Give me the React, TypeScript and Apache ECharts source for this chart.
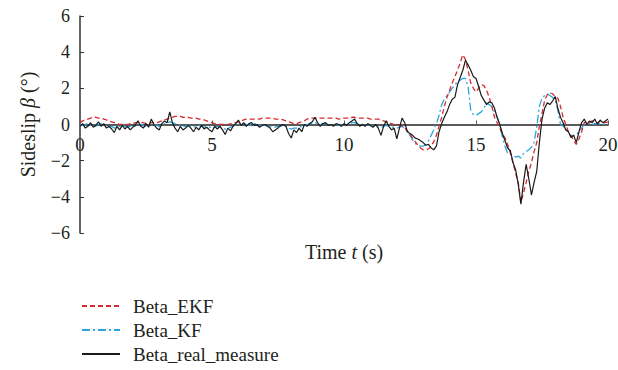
import React, { useEffect, useRef } from "react";
import * as echarts from "echarts";

// time stamps (s), 0.1 s step from 0 to 20
const timeSteps: number[] = Array.from({ length: 201 }, (_, i) => Math.round(i) / 10);

const betaEKF: number[] = [
  0.1, 0.2, 0.25, 0.3, 0.35, 0.4, 0.4, 0.35, 0.35, 0.3,
  0.25, 0.2, 0.15, 0.1, 0.05, 0.0, 0.0, 0.0, 0.0, 0.05,
  0.05, 0.1, 0.1, 0.1, 0.1, 0.05, 0.05, 0.1, 0.1, 0.1,
  0.15, 0.2, 0.25, 0.3, 0.35, 0.4, 0.45, 0.45, 0.45, 0.4,
  0.4, 0.4, 0.35, 0.35, 0.35, 0.3, 0.3, 0.25, 0.2, 0.15,
  0.1, 0.05, 0.0, 0.0, 0.0, 0.0, 0.0, 0.05, 0.05, 0.1,
  0.15, 0.2, 0.25, 0.3, 0.3, 0.3, 0.3, 0.3, 0.3, 0.35,
  0.35, 0.35, 0.35, 0.35, 0.3, 0.3, 0.3, 0.25, 0.2, 0.15,
  0.1, 0.05, 0.05, 0.1, 0.15, 0.2, 0.3, 0.35, 0.35, 0.35,
  0.35, 0.35, 0.35, 0.35, 0.35, 0.35, 0.35, 0.35, 0.3, 0.3,
  0.35, 0.35, 0.35, 0.4, 0.4, 0.35, 0.35, 0.35, 0.35, 0.35,
  0.3, 0.3, 0.3, 0.3, 0.25, 0.2, 0.15, 0.1, 0.05, 0.0,
  0.0, -0.05, -0.1, -0.2, -0.35, -0.55, -0.75, -0.95, -1.15, -1.3,
  -1.4, -1.4, -1.35, -1.2, -0.95, -0.6, -0.1, 0.4, 1.0, 1.5,
  1.9, 2.3, 2.65, 3.0, 3.4, 3.85, 3.6, 3.0, 2.3, 2.0,
  1.8, 2.0, 2.2, 2.15, 1.9, 1.5, 1.0, 0.4, 0.1, -0.2,
  -0.5, -0.75, -1.1, -1.6, -2.1, -2.7, -3.2, -4.3, -3.8, -3.2,
  -2.6, -2.1, -1.5, -1.0, -0.1, 0.6, 1.35, 1.65, 1.75, 1.7,
  1.55, 1.45, 1.0, 0.4, 0.0, -0.4, -0.6, -0.9, -1.1, -0.8,
  -0.4, 0.1, 0.15, 0.1, 0.2, 0.15, 0.1, 0.2, 0.15, 0.1,
  0.15,
];

const betaKF: number[] = [
  0.0, -0.05, 0.0, 0.05, -0.05, 0.0, -0.1, 0.0, 0.05, -0.05,
  -0.1, -0.15, -0.1, -0.2, -0.15, -0.1, -0.05, -0.1, -0.15, -0.1,
  -0.05, -0.1, -0.05, 0.0, -0.05, -0.1, 0.0, 0.05, 0.0, -0.05,
  -0.1, -0.05, 0.05, 0.1, 0.15, 0.1, 0.05, 0.0, -0.05, -0.1,
  -0.1, -0.05, -0.1, -0.15, -0.1, -0.05, -0.1, -0.15, -0.1, -0.15,
  -0.2, -0.15, -0.1, -0.15, -0.2, -0.25, -0.2, -0.15, -0.1, 0.0,
  0.05, 0.0, 0.05, 0.0, -0.05, 0.0, 0.05, 0.0, -0.05, -0.05,
  -0.05, -0.1, -0.1, -0.15, -0.15, -0.1, -0.1, -0.05, -0.1, -0.2,
  -0.25, -0.2, -0.2, -0.15, -0.1, -0.05, 0.0, 0.05, 0.05, 0.1,
  0.05, 0.0, 0.05, 0.05, 0.0, -0.05, 0.0, 0.0, -0.05, -0.05,
  0.0, 0.0, 0.05, 0.1, 0.1, 0.05, 0.0, 0.0, -0.05, 0.0,
  -0.05, -0.1, -0.1, -0.15, -0.15, -0.1, -0.05, -0.1, -0.15, -0.15,
  -0.2, -0.15, -0.1, -0.2, -0.4, -0.6, -0.85, -1.05, -1.15, -1.2,
  -1.2, -1.1, -0.9, -0.6, -0.3, 0.05, 0.5, 1.1, 1.4, 1.6,
  1.8, 2.0, 2.2, 2.35, 2.45, 2.55, 2.55, 2.1, 0.8, 0.55,
  0.5, 0.6, 0.7, 0.9, 1.2, 1.1, 1.0, 0.7, 0.4, 0.0,
  -0.7, -1.2, -1.6, -1.65, -1.7, -1.8, -1.75, -1.85, -1.6, -1.5,
  -1.4, -1.25, -1.0, -0.15, 1.0, 1.45, 1.6, 1.7, 1.6, 1.5,
  1.35, 0.8, 0.0, -0.1, -0.2, -0.4, -0.7, -0.6, -0.55, -0.4,
  -0.2, 0.0, 0.1, 0.05, 0.0, 0.05, 0.0, 0.05, 0.0, 0.05,
  0.05,
];

const betaRealMeasure: number[] = [
  -0.1, 0.05, -0.2, -0.1, 0.1, -0.15, -0.05, 0.15, -0.1, 0.05,
  -0.2, -0.1, -0.25, -0.45, -0.1, -0.3, -0.05, -0.25, -0.1, -0.3,
  -0.15, 0.0, 0.2, -0.1, -0.2, 0.05, -0.15, 0.3, 0.0, -0.2,
  -0.3, 0.05, 0.2, 0.1, 0.7, 0.1, -0.2, -0.4, -0.1, -0.3,
  -0.2, -0.05, -0.2, -0.4, -0.15, -0.3, -0.05, -0.25, -0.15, -0.3,
  -0.4, -0.1, -0.25, -0.1, -0.3, -0.55, -0.2, -0.35, -0.1, 0.05,
  0.25, -0.05, 0.1, -0.1, 0.05, 0.1, -0.05, 0.0, -0.15, -0.05,
  0.0, -0.1, -0.2, -0.4, -0.3, -0.2, -0.05, 0.0, -0.1, -0.5,
  -0.75, -0.3, -0.45, -0.2, -0.4, 0.0, -0.1, 0.05, 0.15, 0.4,
  0.1, -0.1, 0.05, 0.1, -0.05, 0.0, -0.1, 0.05, 0.0, -0.1,
  0.05, -0.05, 0.1, 0.2, 0.3, 0.05, -0.1, 0.0, -0.1, 0.05,
  -0.05, -0.15, 0.0, -0.2, -0.6, -0.1, 0.2, -0.1, -0.3, -0.2,
  -0.8, -0.2, 0.35, 0.1, -0.4, -0.5, -0.6, -0.75, -0.8, -0.9,
  -1.0, -1.15, -1.1, -1.3, -1.4, -1.2, -0.4, 0.05, 0.4, 0.7,
  1.1, 1.4, 1.5, 2.2, 2.6, 3.0, 3.55, 3.3, 3.0, 2.65,
  2.55, 2.1, 1.6, 1.35, 1.1, 1.25, 1.2, 0.9, 0.4, 0.0,
  -0.5, -0.9, -1.3, -1.45, -2.1, -2.5, -3.3, -4.4, -3.2, -2.2,
  -3.0, -3.9, -3.2, -2.6, -1.0, 0.3, 0.9, 1.2, 1.1, 1.3,
  1.55, 0.9, 0.4, 0.1, -0.3, -0.4, -0.7, -0.6, -1.0, -0.4,
  0.1, 0.3, 0.0, 0.2, 0.1, 0.3, 0.0, 0.25, 0.1, 0.2,
  0.3,
];

const seriesNames = ["Beta_EKF", "Beta_KF", "Beta_real_measure"];
const xTicks = { min: 0, max: 20, interval: 5 };
const yTicks = { min: -6, max: 6, interval: 2 };

const FONT = "'Liberation Serif', 'DejaVu Serif', serif";
const TEXT = "#231f20";

function pairs(vals: number[]): number[][] {
  return vals.map((v, i) => [timeSteps[i], v]);
}

const minus = (v: number) => String(v).replace("-", "\u2212");

export default function App() {
  const ref = useRef<HTMLDivElement>(null);
  useEffect(() => {
    if (!ref.current) return;
    const chart = echarts.init(ref.current, null, { renderer: "svg" });
    const nameRich = {
      a: { fontFamily: FONT, fontSize: 20, color: TEXT },
      i: { fontFamily: FONT, fontSize: 20, color: TEXT, fontStyle: "italic" },
    };
    const legendTops = [291, 315, 339];
    const legends = seriesNames.map((n, i) => ({
      orient: "vertical",
      left: 76,
      top: legendTops[i],
      itemWidth: 38,
      itemHeight: 10,
      data: [n],
      itemStyle: { opacity: 0 },
      textStyle: { fontFamily: FONT, fontSize: 19, lineHeight: 20, color: TEXT, padding: [0, 0, 0, 8] },
    }));
    chart.setOption({
      animation: false,
      backgroundColor: "#ffffff",
      grid: { left: 80, right: 10, top: 16, bottom: 137, containLabel: false, outerBoundsMode: "none" },
      legend: legends,
      xAxis: {
        type: "value",
        min: xTicks.min,
        max: xTicks.max,
        interval: xTicks.interval,
        offset: -108.5,
        name: "{a|Time }{i|t}{a| (s)}",
        nameLocation: "middle",
        nameGap: 117,
        nameTextStyle: { rich: nameRich },
        axisLine: { onZero: false, lineStyle: { color: "#5a5a5a", width: 2 } },
        axisTick: { inside: true, length: 4, lineStyle: { color: "#5a5a5a", width: 1 } },
        axisLabel: { fontFamily: FONT, fontSize: 19, color: TEXT, margin: 10 },
        splitLine: { show: false },
      },
      yAxis: {
        type: "value",
        min: yTicks.min,
        max: yTicks.max,
        interval: yTicks.interval,
        name: "{a|Sideslip }{i|β}{a| (°)}",
        nameLocation: "middle",
        nameGap: 42,
        nameRotate: 90,
        nameTextStyle: { rich: nameRich },
        axisLine: { onZero: false, lineStyle: { color: "#333333", width: 1.5 } },
        axisTick: { inside: true, length: 4, lineStyle: { color: "#333333", width: 1 } },
        axisLabel: { fontFamily: FONT, fontSize: 18, color: TEXT, margin: 10, formatter: minus },
        splitLine: { show: false },
      },
      series: [
        {
          name: seriesNames[0],
          type: "line",
          data: pairs(betaEKF),
          showSymbol: false,
          symbol: "none",
          z: 3,
          lineStyle: { color: "#d62b30", width: 1.3, type: [5, 3] },
          itemStyle: { color: "#d62b30" },
        },
        {
          name: seriesNames[1],
          type: "line",
          data: pairs(betaKF),
          showSymbol: false,
          symbol: "none",
          z: 2,
          lineStyle: { color: "#2aa5dd", width: 1.3, type: [8, 3, 2, 3] },
          itemStyle: { color: "#2aa5dd" },
        },
        {
          name: seriesNames[2],
          type: "line",
          data: pairs(betaRealMeasure),
          showSymbol: false,
          symbol: "none",
          z: 4,
          lineStyle: { color: "#1a1a1a", width: 1.2 },
          itemStyle: { color: "#1a1a1a" },
        },
      ],
    });
    return () => chart.dispose();
  }, []);
  return <div ref={ref} style={{ width: 618, height: 370, position: "absolute", left: 0, top: 0 }} />;
}
